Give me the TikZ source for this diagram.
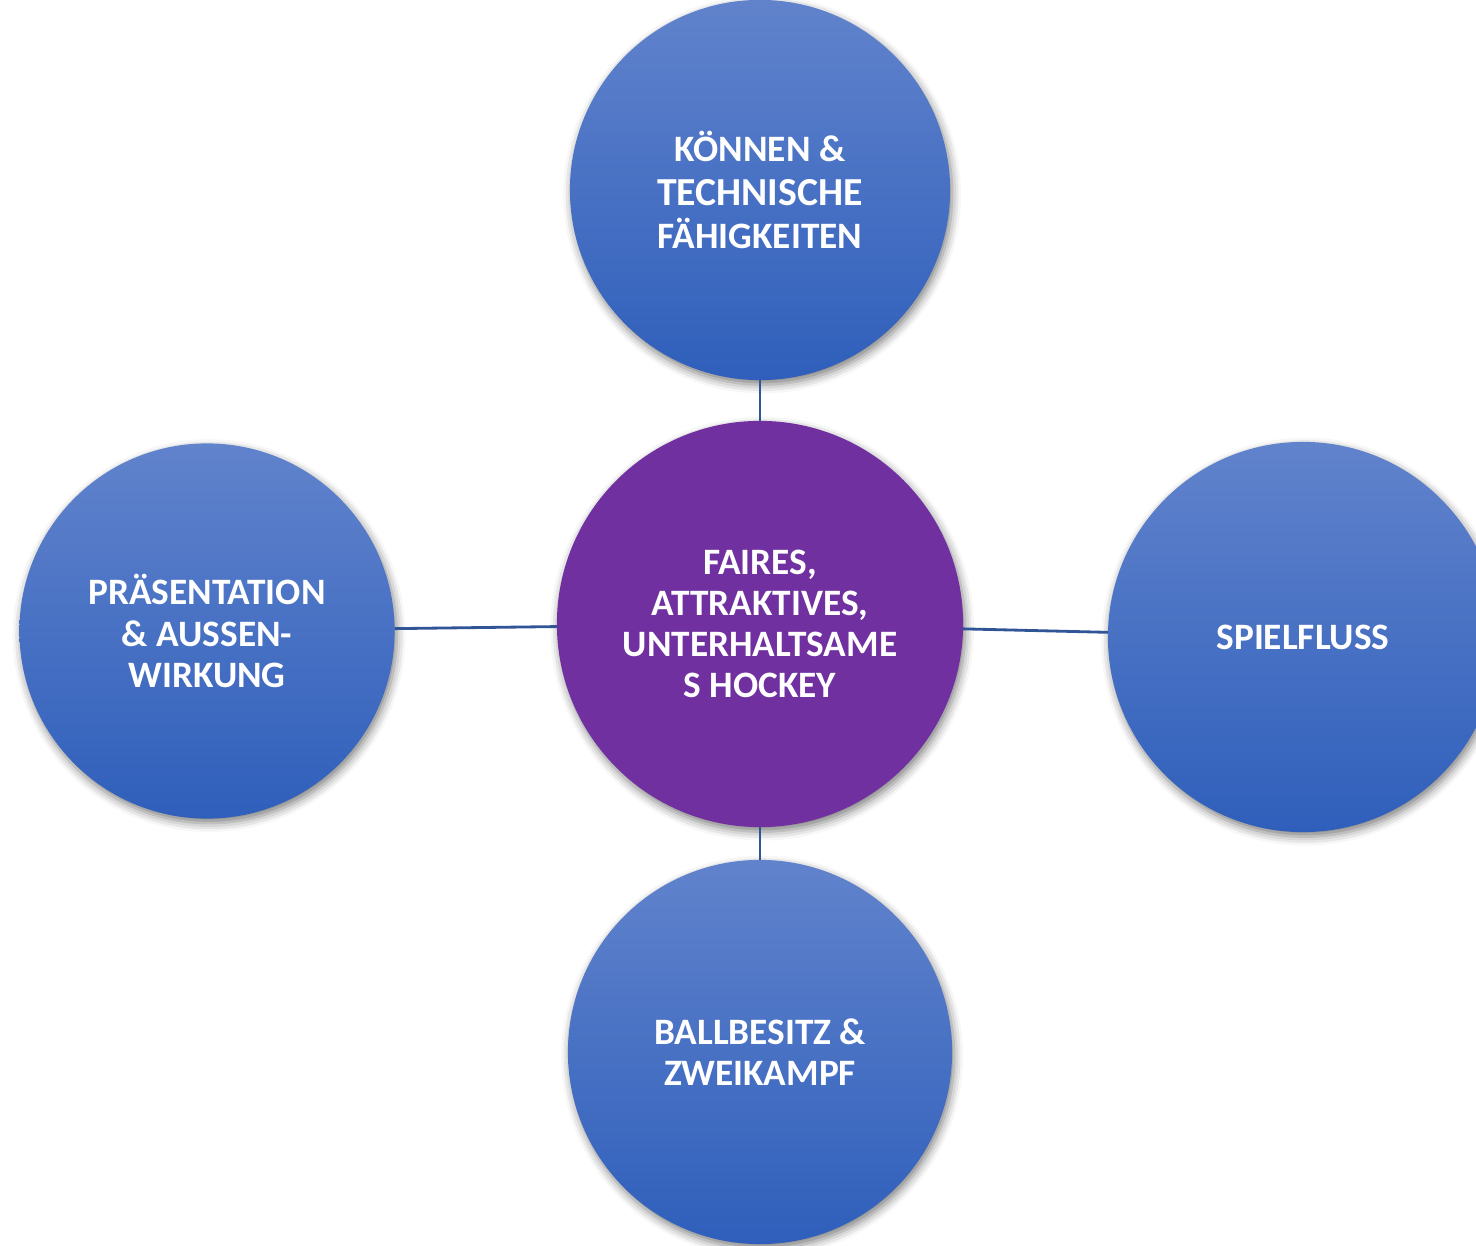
\documentclass[tikz,border=0pt]{standalone}
\usepackage{fontspec}
\setmainfont{Carlito}
\usetikzlibrary{shadows.blur}
\definecolor{bubbletop}{RGB}{97,131,204}
\definecolor{bubblebot}{RGB}{47,95,187}
\definecolor{corepurple}{RGB}{112,48,160}
\definecolor{linkblue}{RGB}{47,85,151}
\begin{document}
\begin{tikzpicture}[x=0.01cm, y=-0.01cm,
  every node/.style={circle, inner sep=0pt, outer sep=0pt, align=center, text=white,
    font=\bfseries\fontsize{10.6}{11.7}\selectfont,
    blur shadow={shadow xshift=0.6pt, shadow yshift=-1.3pt, shadow blur radius=2.5pt, shadow opacity=50}},
  bubble/.style={top color=bubbletop, bottom color=bubblebot},
  core/.style={fill=corepurple},
  link/.style={draw=linkblue, line width=0.8pt}]
\useasboundingbox (0,0) rectangle (1476,1246);
\node[core, minimum size=4.06cm] (hockey) at (760,624) {FAIRES,\\ATTRAKTIVES,\\UNTERHALTSAME\\S HOCKEY};
\node[bubble, minimum size=3.8cm, font=\bfseries\fontsize{10.6}{12.5}\selectfont] (koennen) at (760,190) {KÖNNEN \&\\{\fontsize{11.3}{12.5}\selectfont TECHNISCHE}\\FÄHIGKEITEN};
\node[bubble, minimum size=3.75cm] (praesentation) at (207,631) {PRÄSENTATION\\\& AUSSEN-\\WIRKUNG};
\node[bubble, minimum size=3.9cm] (spielfluss) at (1303,637) {SPIELFLUSS};
\node[bubble, minimum size=3.84cm] (ballbesitz) at (760,1052) {BALLBESITZ \&\\ZWEIKAMPF};

\draw[link] (koennen) -- (hockey);
\draw[link] (praesentation) -- (hockey);
\draw[link] (hockey) -- (spielfluss);
\draw[link] (hockey) -- (ballbesitz);
\end{tikzpicture}
\end{document}
